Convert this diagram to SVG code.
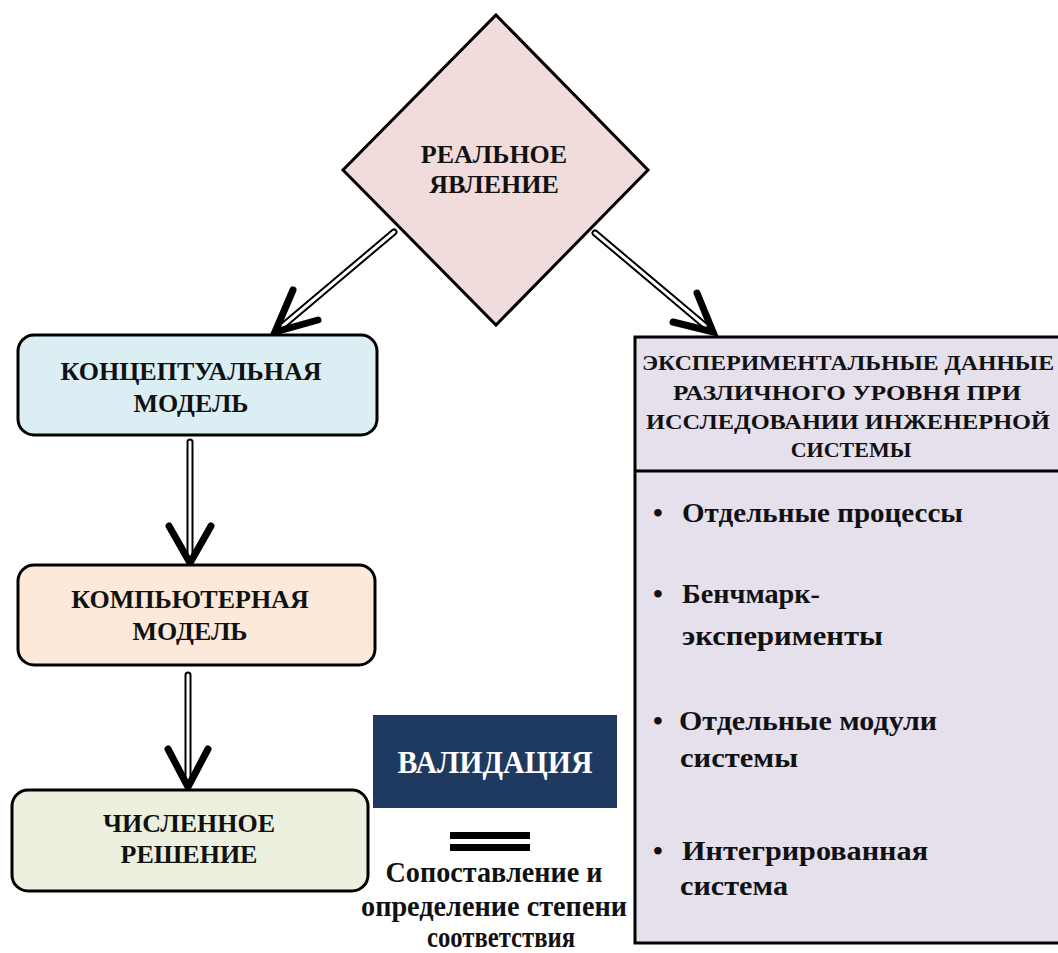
<svg xmlns="http://www.w3.org/2000/svg" width="1058" height="953" viewBox="0 0 1058 953">
<style>
text{font-family:"Liberation Serif","Times New Roman",serif;font-weight:bold;fill:#111;}
.lbl{font-size:26px;text-anchor:middle;}
.hdr{font-size:22px;text-anchor:middle;}
.itm{font-size:28px;}
.cmp{font-size:29px;text-anchor:middle;}
.box{stroke:#000;stroke-width:3;}
.shaftO{fill:none;stroke:#000;stroke-width:7;stroke-linecap:round;}
.shaftI{fill:none;stroke:#fff;stroke-width:3;stroke-linecap:round;}
.head{fill:none;stroke:#000;stroke-width:7;stroke-linecap:round;stroke-linejoin:miter;stroke-miterlimit:10;}
</style>
<rect width="1058" height="953" fill="#fff"/>

<g id="connectors">
  <path class="shaftO" d="M394,232 L279,329"/>
  <path class="shaftI" d="M394,232 L279,329"/>
  <polyline class="head" points="293,290 275,332 318,320"/>

  <path class="shaftO" d="M595,233 L709,329"/>
  <path class="shaftI" d="M595,233 L709,329"/>
  <polyline class="head" points="697,293 713,332 673,322"/>

  <path class="shaftO" d="M190,442 L190,558"/>
  <path class="shaftI" d="M190,442 L190,558"/>
  <polyline class="head" points="169,526 190,563 211,526"/>

  <path class="shaftO" d="M188,675 L188,782"/>
  <path class="shaftI" d="M188,675 L188,782"/>
  <polyline class="head" points="168,749 188,787 208,749"/>
</g>

<g id="node-real">
  <polygon class="box" points="496,15 648,170 496,325 343,170" fill="#f2dcdb" stroke-width="2.5"/>
  <text class="lbl" x="494" y="163">РЕАЛЬНОЕ</text>
  <text class="lbl" x="494" y="193">ЯВЛЕНИЕ</text>
</g>

<g id="node-conceptual">
  <rect class="box" x="18" y="335" width="359" height="100" rx="16" fill="#dbeef4"/>
  <text class="lbl" x="191" y="380">КОНЦЕПТУАЛЬНАЯ</text>
  <text class="lbl" x="191" y="412">МОДЕЛЬ</text>
</g>

<g id="node-computer">
  <rect class="box" x="18" y="565" width="357" height="100" rx="16" fill="#fde9d9"/>
  <text class="lbl" x="190" y="608">КОМПЬЮТЕРНАЯ</text>
  <text class="lbl" x="190" y="640">МОДЕЛЬ</text>
</g>

<g id="node-numerical">
  <rect class="box" x="12" y="790" width="356" height="101" rx="16" fill="#ebf1de"/>
  <text class="lbl" x="189" y="832">ЧИСЛЕННОЕ</text>
  <text class="lbl" x="189" y="863">РЕШЕНИЕ</text>
</g>

<g id="node-validation">
  <rect x="373" y="715" width="244" height="93" fill="#1f3a60"/>
  <text x="495" y="773" textLength="195" lengthAdjust="spacingAndGlyphs" style="font-size:31px;text-anchor:middle;fill:#fff">ВАЛИДАЦИЯ</text>
  <rect x="450" y="832" width="80" height="7" fill="#000"/>
  <rect x="450" y="844" width="80" height="7" fill="#000"/>
  <text class="cmp" x="494" y="882" textLength="217" lengthAdjust="spacingAndGlyphs">Сопоставление и</text>
  <text class="cmp" x="494" y="916" textLength="266" lengthAdjust="spacingAndGlyphs">определение степени</text>
  <text class="cmp" x="501" y="947" textLength="148" lengthAdjust="spacingAndGlyphs">соответствия</text>
</g>

<g id="node-experimental">
  <rect class="box" x="635" y="337" width="430" height="606" fill="#e5e0ec"/>
  <line x1="635" y1="471" x2="1058" y2="471" stroke="#000" stroke-width="3"/>
  <text class="hdr" x="848" y="370" textLength="412" lengthAdjust="spacingAndGlyphs">ЭКСПЕРИМЕНТАЛЬНЫЕ ДАННЫЕ</text>
  <text class="hdr" x="847" y="400" textLength="348" lengthAdjust="spacingAndGlyphs">РАЗЛИЧНОГО УРОВНЯ ПРИ</text>
  <text class="hdr" x="848" y="429" textLength="404" lengthAdjust="spacingAndGlyphs">ИССЛЕДОВАНИИ ИНЖЕНЕРНОЙ</text>
  <text class="hdr" x="851" y="457">СИСТЕМЫ</text>

  <text class="itm" x="653" y="522">•</text>
  <text class="itm" x="682" y="522" textLength="281" lengthAdjust="spacingAndGlyphs">Отдельные процессы</text>
  <text class="itm" x="653" y="603">•</text>
  <text class="itm" x="682" y="603" textLength="138" lengthAdjust="spacingAndGlyphs">Бенчмарк-</text>
  <text class="itm" x="682" y="645" textLength="201" lengthAdjust="spacingAndGlyphs">эксперименты</text>
  <text class="itm" x="653" y="730">•</text>
  <text class="itm" x="679" y="730" textLength="258" lengthAdjust="spacingAndGlyphs">Отдельные модули</text>
  <text class="itm" x="680" y="767" textLength="118" lengthAdjust="spacingAndGlyphs">системы</text>
  <text class="itm" x="653" y="860">•</text>
  <text class="itm" x="682" y="860" textLength="246" lengthAdjust="spacingAndGlyphs">Интегрированная</text>
  <text class="itm" x="680" y="895" textLength="108" lengthAdjust="spacingAndGlyphs">система</text>
</g>
</svg>
